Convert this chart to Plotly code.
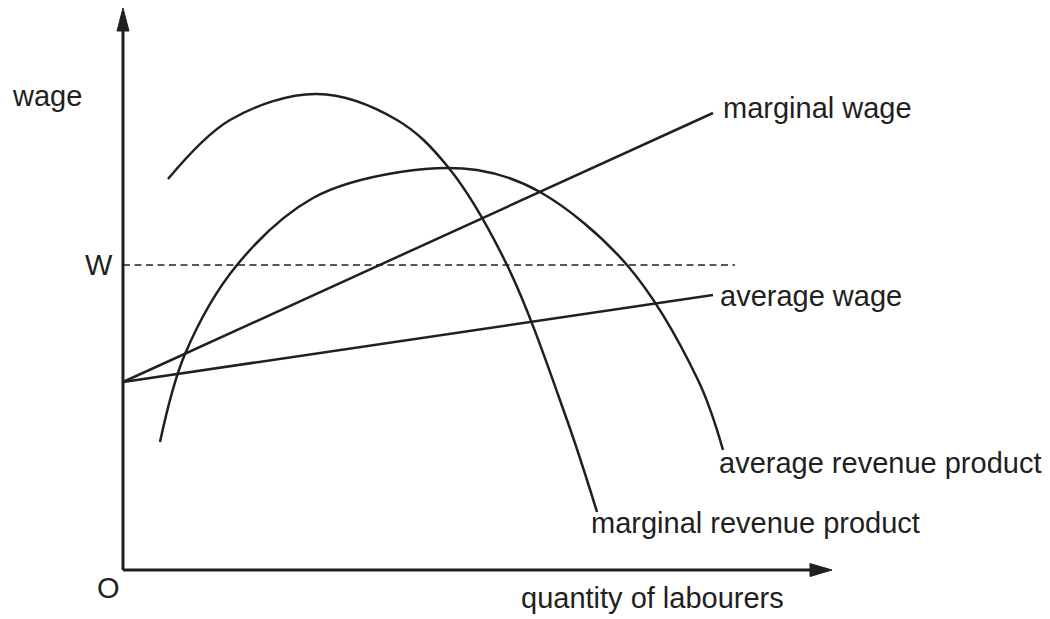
import plotly.graph_objects as go

# ---- data (economic coordinates; origin O at the axes' corner) ----
mrp_x = [45, 107, 194, 274, 325, 384, 444, 474]
mrp_y = [391, 450, 476, 450, 403, 305, 150, 58]

arp_x = [37, 62, 114, 190, 277, 354, 417, 504, 575, 600]
arp_y = [128, 216, 305, 372, 398, 400, 378, 305, 190, 120]

mw_x = [0, 590]
mw_y = [188, 457]

aw_x = [0, 590]
aw_y = [188, 275]

wage_level = 305
dash_x = [0, 612]

x_axis_end = 709
y_axis_end = 562

labels = {
    "marginal wage": (598, 462),
    "average wage": (595, 274),
    "average revenue product": (594, 107),
    "marginal revenue product": (466, 47),
}

INK = "#231f20"
FONT = "Liberation Sans, Arial, Helvetica, sans-serif"
FS = 29

# the page body adds an 8px margin; the plot is sized so that it fills the window
W_FIG, H_FIG = 1042, 611

fig = go.Figure()

# axes lines
fig.add_trace(go.Scatter(x=[0, 0], y=[0, y_axis_end - 20], mode="lines",
                         line=dict(color=INK, width=3), hoverinfo="skip"))
fig.add_trace(go.Scatter(x=[0, x_axis_end - 20], y=[0, 0], mode="lines",
                         line=dict(color=INK, width=3), hoverinfo="skip"))
# arrowheads
fig.add_trace(go.Scatter(x=[-6, 0, 6, -6], y=[y_axis_end - 23, y_axis_end, y_axis_end - 23, y_axis_end - 23],
                         mode="lines", fill="toself", fillcolor=INK,
                         line=dict(color=INK, width=1), hoverinfo="skip"))
fig.add_trace(go.Scatter(x=[x_axis_end - 22, x_axis_end, x_axis_end - 22, x_axis_end - 22], y=[6.5, 0, -6.5, 6.5],
                         mode="lines", fill="toself", fillcolor=INK,
                         line=dict(color=INK, width=1), hoverinfo="skip"))

# dashed wage level
fig.add_trace(go.Scatter(x=dash_x, y=[wage_level, wage_level], mode="lines",
                         line=dict(color=INK, width=1.3, dash="7px,4.5px"), hoverinfo="skip"))

# wage lines
fig.add_trace(go.Scatter(x=mw_x, y=mw_y, mode="lines", line=dict(color=INK, width=2.5)))
fig.add_trace(go.Scatter(x=aw_x, y=aw_y, mode="lines", line=dict(color=INK, width=2.5)))

# revenue product curves
fig.add_trace(go.Scatter(x=mrp_x, y=mrp_y, mode="lines",
                         line=dict(color=INK, width=2.5, shape="spline", smoothing=1.0)))
fig.add_trace(go.Scatter(x=arp_x, y=arp_y, mode="lines",
                         line=dict(color=INK, width=2.5, shape="spline", smoothing=1.0)))

for txt, (lx, ly) in labels.items():
    fig.add_annotation(x=lx, y=ly, text=txt, showarrow=False, xanchor="left", yanchor="middle",
                       font=dict(family=FONT, size=FS, color=INK))

fig.add_annotation(x=-113, y=474, text="wage", showarrow=False, xanchor="left", yanchor="middle",
                   font=dict(family=FONT, size=FS, color=INK))
fig.add_annotation(x=-24, y=wage_level, text="W", showarrow=False, xanchor="center", yanchor="middle",
                   font=dict(family=FONT, size=FS, color=INK))
fig.add_annotation(x=-15, y=-18, text="O", showarrow=False, xanchor="center", yanchor="middle",
                   font=dict(family=FONT, size=FS, color=INK))
fig.add_annotation(x=396, y=-28, text="quantity of labourers", showarrow=False, xanchor="left", yanchor="middle",
                   font=dict(family=FONT, size=FS, color=INK))

fig.update_layout(
    width=W_FIG, height=H_FIG,
    margin=dict(l=0, r=0, t=0, b=0),
    paper_bgcolor="white", plot_bgcolor="white",
    showlegend=False,
    xaxis=dict(range=[-115, 927], visible=False, fixedrange=True),
    yaxis=dict(range=[-49, 562], visible=False, fixedrange=True),
)

fig.write_html("out.html")
